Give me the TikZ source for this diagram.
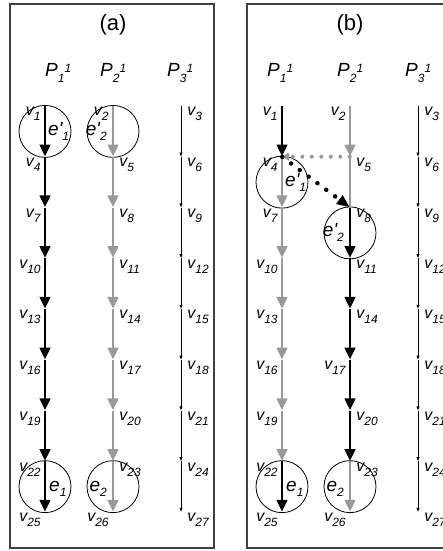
\documentclass[tikz,border=0pt]{standalone}
\usepackage{fontspec}
\setmainfont{Liberation Sans}
\usepackage{tikz}
\usetikzlibrary{positioning,arrows.meta}

\newcommand{\idxfont}{\fontsize{12}{12}\selectfont}
\newcommand{\lowidx}[1]{\raisebox{-5pt}{\idxfont #1}}
\newcommand{\vl}[1]{v\lowidx{#1}}
\newcommand{\pl}[1]{P\raisebox{-6pt}{\idxfont #1}\raisebox{4pt}{\idxfont 1}}

\tikzset{
  pt/.style={inner sep=0pt, minimum size=0pt},
  lab/.style={font=\fontsize{16}{16}\selectfont\itshape, inner sep=1pt},
  lv/.style={label={[lab, xshift=-3pt]south west:\vl{#1}}},
  rv/.style={label={[lab, xshift=5pt]south east:\vl{#1}}},
  ring/.style={circle, draw, line width=0.8pt, minimum size=52pt, inner sep=0pt},
  elab/.style={font=\fontsize{19}{19}\selectfont\itshape, inner sep=0pt},
  plab/.style={font=\fontsize{19}{19}\selectfont\itshape, anchor=base west, inner sep=0pt},
  ttl/.style={font=\fontsize{22}{22}\selectfont},
  blk/.style={line width=2.8pt, -{Triangle[length=12pt,width=10.5pt]}},
  gry/.style={blk, draw=black!40},
  gryline/.style={line width=2.8pt, draw=black!40, -},
  flow/.style={line width=0.9pt, -{Triangle[length=4pt,width=3pt]}},
  gdot/.style={draw=black!40, line width=4pt, line cap=round, dash pattern=on 0pt off 9.5pt, -{Triangle[length=7pt,width=8pt]}},
  kdot/.style={line width=4.5pt, line cap=round, dash pattern=on 0pt off 11pt, -{Triangle[length=13pt,width=10pt]}},
  frame/.style={-, line width=1.3pt, draw=black!75}
}

\begin{document}
\begin{tikzpicture}[->, >=Stealth, auto, node distance=50.75pt, x=1pt, y=-1pt]
  \useasboundingbox (0,0) rectangle (443,551);
  \draw[frame] (10,4) rectangle (214,548);
  \draw[frame] (247,4) rectangle (460,548);

  % panel (a)
  \node[ttl] (ta) at (113,25) {(a)};
  \node[plab] (pa1) at (45,76) {\pl{1}};
  \node[plab] (pa2) at (100,76) {\pl{2}};
  \node[plab] (pa3) at (167,76) {\pl{3}};

  \node[pt, lv=1] (a1) at (45,106) {};
  \node[pt, lv=4] (a4) [below of=a1] {};
  \node[pt, lv=7] (a7) [below of=a4] {};
  \node[pt, lv=10] (a10) [below of=a7] {};
  \node[pt, lv=13] (a13) [below of=a10] {};
  \node[pt, lv=16] (a16) [below of=a13] {};
  \node[pt, lv=19] (a19) [below of=a16] {};
  \node[pt, lv=22] (a22) [below of=a19] {};
  \node[pt, lv=25] (a25) [below of=a22] {};

  \node[pt, lv=2] (a2) at (113,106) {};
  \node[pt, rv=5] (a5) [below of=a2] {};
  \node[pt, rv=8] (a8) [below of=a5] {};
  \node[pt, rv=11] (a11) [below of=a8] {};
  \node[pt, rv=14] (a14) [below of=a11] {};
  \node[pt, rv=17] (a17) [below of=a14] {};
  \node[pt, rv=20] (a20) [below of=a17] {};
  \node[pt, rv=23] (a23) [below of=a20] {};
  \node[pt, lv=26] (a26) [below of=a23] {};

  \node[pt, rv=3] (a3) at (181,106) {};
  \node[pt, rv=6] (a6) [below of=a3] {};
  \node[pt, rv=9] (a9) [below of=a6] {};
  \node[pt, rv=12] (a12) [below of=a9] {};
  \node[pt, rv=15] (a15) [below of=a12] {};
  \node[pt, rv=18] (a18) [below of=a15] {};
  \node[pt, rv=21] (a21) [below of=a18] {};
  \node[pt, rv=24] (a24) [below of=a21] {};
  \node[pt, rv=27] (a27) [below of=a24] {};

  \node[ring] (ca1) [node distance=25.4pt, below of=a1] {};
  \node[ring] (ca2) [node distance=25.4pt, below of=a2] {};
  \node[ring] (ca22) [node distance=25.4pt, below of=a22] {};
  \node[ring] (ca23) [node distance=25.4pt, below of=a23] {};
  \node[elab] (ea1) [right=3pt of ca1.center] {e\textquotesingle\lowidx{1}};
  \node[elab] (ea2) [left=6pt of ca2.center] {e\textquotesingle\lowidx{2}};
  \node[elab] (ea22) [right=4pt of ca22.center, yshift=-2pt] {e\lowidx{1}};
  \node[elab] (ea23) [left=6pt of ca23.center, yshift=-2pt] {e\lowidx{2}};

  \path
  (a1) edge[blk] (a4)  (a4) edge[blk] (a7)  (a7) edge[blk] (a10)
  (a10) edge[blk] (a13)  (a13) edge[blk] (a16)  (a16) edge[blk] (a19)
  (a19) edge[blk] (a22)  (a22) edge[blk] (a25)
  (a2) edge[gry] (a5)  (a5) edge[gry] (a8)  (a8) edge[gry] (a11)
  (a11) edge[gry] (a14)  (a14) edge[gry] (a17)  (a17) edge[gry] (a20)
  (a20) edge[gry] (a23)  (a23) edge[gry] (a26)
  (a3) edge[flow] (a6)  (a6) edge[flow] (a9)  (a9) edge[flow] (a12)
  (a12) edge[flow] (a15)  (a15) edge[flow] (a18)  (a18) edge[flow] (a21)
  (a21) edge[flow] (a24)  (a24) edge[flow] (a27);

  % panel (b)
  \node[ttl] (tb) at (350,25) {(b)};
  \node[plab] (pb1) at (267,76) {\pl{1}};
  \node[plab] (pb2) at (337,76) {\pl{2}};
  \node[plab] (pb3) at (405,76) {\pl{3}};

  \node[pt, lv=1] (b1) at (282,106) {};
  \node[pt, lv=4] (b4) [below of=b1] {};
  \node[pt, lv=7] (b7) [below of=b4] {};
  \node[pt, lv=10] (b10) [below of=b7] {};
  \node[pt, lv=13] (b13) [below of=b10] {};
  \node[pt, lv=16] (b16) [below of=b13] {};
  \node[pt, lv=19] (b19) [below of=b16] {};
  \node[pt, lv=22] (b22) [below of=b19] {};
  \node[pt, lv=25] (b25) [below of=b22] {};

  \node[pt, lv=2] (b2) at (350,106) {};
  \node[pt, rv=5] (b5) [below of=b2] {};
  \node[pt, rv=8] (b8) [below of=b5] {};
  \node[pt, rv=11] (b11) [below of=b8] {};
  \node[pt, rv=14] (b14) [below of=b11] {};
  \node[pt, lv=17] (b17) [below of=b14] {};
  \node[pt, rv=20] (b20) [below of=b17] {};
  \node[pt, rv=23] (b23) [below of=b20] {};
  \node[pt, lv=26] (b26) [below of=b23] {};

  \node[pt, rv=3] (b3) at (418,106) {};
  \node[pt, rv=6] (b6) [below of=b3] {};
  \node[pt, rv=9] (b9) [below of=b6] {};
  \node[pt, rv=12] (b12) [below of=b9] {};
  \node[pt, rv=15] (b15) [below of=b12] {};
  \node[pt, rv=18] (b18) [below of=b15] {};
  \node[pt, rv=21] (b21) [below of=b18] {};
  \node[pt, rv=24] (b24) [below of=b21] {};
  \node[pt, rv=27] (b27) [below of=b24] {};

  \node[ring] (cb4) [node distance=25.4pt, below of=b4] {};
  \node[ring] (cb8) [node distance=25.4pt, below of=b8] {};
  \node[ring] (cb22) [node distance=25.4pt, below of=b22] {};
  \node[ring] (cb23) [node distance=25.4pt, below of=b23] {};
  \node[elab] (eb4) [right=3pt of cb4.center] {e\textquotesingle\lowidx{1}};
  \node[elab] (eb8) [left=6pt of cb8.center] {e\textquotesingle\lowidx{2}};
  \node[elab] (eb22) [right=4pt of cb22.center, yshift=-2pt] {e\lowidx{1}};
  \node[elab] (eb23) [left=6pt of cb23.center, yshift=-2pt] {e\lowidx{2}};

  \path
  (b5) edge[gdot] (b4)
  (b4) edge[gry] (b7)  (b7) edge[gry] (b10)  (b10) edge[gry] (b13)
  (b13) edge[gry] (b16)  (b16) edge[gry] (b19)  (b19) edge[gry] (b22)
  (b2) edge[gry] (b5)  (b5) edge[gryline] (b8)  (b23) edge[gry] (b26)
  (b1) edge[blk] (b4)  (b22) edge[blk] (b25)
  (b8) edge[blk] (b11)  (b11) edge[blk] (b14)  (b14) edge[blk] (b17)
  (b17) edge[blk] (b20)  (b20) edge[blk] (b23)
  (b4) edge[kdot] (b8)
  (b3) edge[flow] (b6)  (b6) edge[flow] (b9)  (b9) edge[flow] (b12)
  (b12) edge[flow] (b15)  (b15) edge[flow] (b18)  (b18) edge[flow] (b21)
  (b21) edge[flow] (b24)  (b24) edge[flow] (b27);
\end{tikzpicture}
\end{document}
